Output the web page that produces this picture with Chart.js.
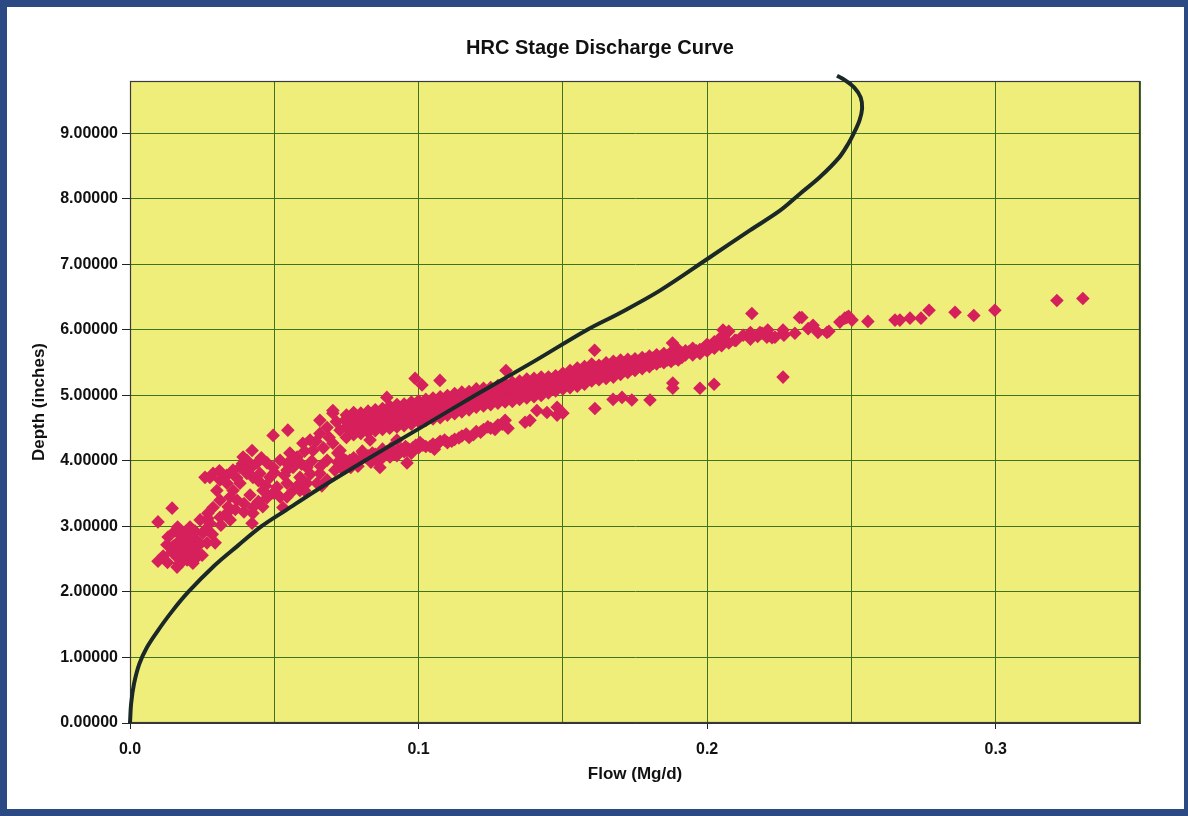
<!DOCTYPE html>
<html><head><meta charset="utf-8">
<script src="https://cdn.jsdelivr.net/npm/chart.js@4.4.0/dist/chart.umd.min.js"></script>
<style>html,body{margin:0;padding:0;background:#fff;}canvas{display:block;}</style>
</head><body>
<canvas id="c" width="1188" height="816"></canvas>
<script>
// Rating curve (flow Mg/d, depth inches)
const curvePoints = [[0,0],[0.0004,0.3],[0.0014,0.6],[0.0032,0.9],[0.0058,1.15],[0.0095,1.4],[0.0145,1.7],[0.0202,2.0],[0.0292,2.4],[0.0372,2.7],[0.0455,3.0],[0.0541,3.25],[0.0645,3.55],[0.0812,4.0],[0.1,4.49],[0.1195,5.0],[0.14,5.52],[0.1583,6.0],[0.1698,6.26],[0.1836,6.6],[0.2003,7.09],[0.2148,7.52],[0.2252,7.82],[0.2322,8.08],[0.239,8.33],[0.2457,8.63],[0.249,8.85],[0.2508,9.0],[0.2528,9.2],[0.2537,9.38],[0.2532,9.55],[0.251,9.7],[0.2475,9.82],[0.245,9.88]];

// Observed flow/depth pairs
const leftCluster = [[0.0097,3.07],[0.0146,3.28],[0.0097,2.47],[0.0128,2.72],[0.0173,2.79],[0.0198,2.68],[0.0163,2.53],[0.0198,2.49],[0.0232,2.59],[0.0218,2.44],[0.0163,2.38],[0.0146,2.61],[0.018,2.46],[0.0232,2.79],[0.0267,2.75],[0.0208,2.99],[0.0243,3.10],[0.0277,3.05],[0.0312,3.14],[0.0347,3.10],[0.0426,3.20],[0.0426,3.29],[0.0423,3.05],[0.0295,2.75],[0.0253,2.90],[0.0191,2.87],[0.0156,2.93],[0.0215,2.72],[0.025,2.56],[0.0194,2.61],[0.0132,2.84],
  [0.0115,2.55],[0.013,2.45],[0.015,2.70],[0.0175,2.64],[0.02,2.55],[0.0215,2.60],[0.0225,2.50],[0.017,2.43],[0.0185,2.74],[0.0205,2.82],[0.0225,2.68],[0.024,2.72],[0.0175,2.87],[0.0195,2.93],[0.0165,2.99],[0.0225,2.93],[0.0265,2.97],[0.0285,2.88],[0.0315,3.02],[0.027,3.12],[0.0335,3.20],[0.0365,3.26],[0.0395,3.22],[0.046,3.30],[0.0475,3.44]];

const midCluster = [[0.027,3.20],[0.0288,3.29],[0.0312,3.40],[0.0301,3.55],[0.0277,3.75],[0.0312,3.71],[0.0336,3.66],[0.0347,3.45],[0.0371,3.40],[0.0357,3.55],[0.0381,3.66],[0.0381,3.90],[0.0405,4.01],[0.0392,4.06],[0.0423,4.16],[0.044,3.97],[0.0475,3.97],[0.045,3.81],[0.0426,3.75],[0.0405,3.81],[0.0485,3.75],[0.0509,3.60],[0.052,3.45],[0.0544,3.66],[0.0496,3.51],[0.0461,3.55],[0.0416,3.48],[0.053,3.29],[0.0357,3.86],[0.0288,3.81],[0.026,3.75],[0.0496,4.39],[0.0547,4.47],[0.0579,4.06],[0.0613,3.90],[0.0589,3.75],[0.0565,3.90],[0.0544,3.86],[0.052,4.01],[0.0496,3.90],[0.0554,4.12],[0.0599,4.27],[0.0634,4.16],[0.0658,4.42],[0.0683,4.51],[0.0658,4.62],[0.0703,4.73],[0.0703,4.27],[0.0683,4.01],[0.0658,3.81],[0.0648,3.66],[0.0683,3.71],[0.0613,3.66],[0.0565,3.55],[0.0544,3.45],[0.0589,3.55],[0.0624,4.32],[0.0728,4.47],[0.0745,4.62],[0.0728,4.16],[0.071,3.86],[0.0745,4.01],
  [0.031,3.85],[0.0335,3.78],[0.037,3.74],[0.039,3.96],[0.042,3.90],[0.0445,3.70],[0.047,3.62],[0.05,3.82],[0.0535,3.78],[0.057,4.00],[0.0595,3.95],[0.0605,4.15],[0.063,4.00],[0.0645,4.30],[0.067,4.20],[0.069,4.36],[0.0715,4.60],[0.0625,3.80],[0.066,3.92],[0.0545,3.96],[0.058,3.62],[0.0605,3.55],[0.0665,3.62],[0.0455,4.05],[0.034,3.30],[0.0395,3.35],[0.0445,3.38]];

const mainBand = [[0.075,4.70],[0.075,4.52],[0.075,4.36],[0.0775,4.74],[0.0775,4.55],[0.0775,4.40],[0.08,4.73],[0.08,4.58],[0.08,4.42],[0.0825,4.76],[0.0825,4.60],[0.0825,4.44],[0.085,4.78],[0.085,4.62],[0.085,4.46],[0.0875,4.80],[0.0875,4.63],[0.0875,4.48],[0.09,4.84],[0.09,4.66],[0.09,4.50],[0.0925,4.86],[0.0925,4.68],[0.0925,4.52],[0.095,4.87],[0.095,4.72],[0.095,4.54],[0.0975,4.90],[0.0975,4.73],[0.0975,4.56],[0.1,4.92],[0.1,4.76],[0.1,4.60],[0.1025,4.94],[0.1025,4.78],[0.1025,4.62],[0.105,4.96],[0.105,4.80],[0.105,4.64],[0.1075,4.98],[0.1075,4.82],[0.1075,4.66],[0.11,5.00],[0.11,4.85],[0.11,4.70],[0.1125,5.03],[0.1125,4.87],[0.1125,4.72],[0.115,5.05],[0.115,4.89],[0.115,4.75],[0.1175,5.06],[0.1175,4.92],[0.1175,4.78],[0.12,5.10],[0.12,4.95],[0.12,4.82],[0.1225,5.11],[0.1225,4.97],[0.1225,4.84],[0.125,5.12],[0.125,4.99],[0.125,4.86],[0.1275,5.15],[0.1275,5.01],[0.1275,4.88],[0.13,5.18],[0.13,5.03],[0.13,4.90],[0.1325,5.20],[0.1325,5.05],[0.1325,4.91],[0.135,5.22],[0.135,5.08],[0.135,4.94],[0.1375,5.25],[0.1375,5.10],[0.1375,4.96],[0.14,5.26],[0.14,5.12],[0.14,4.98],[0.1425,5.28],[0.1425,5.14],[0.1425,5.00],[0.145,5.28],[0.145,5.16],[0.145,5.04],[0.1475,5.30],[0.1475,5.19],[0.1475,5.07],[0.15,5.34],[0.15,5.21],[0.15,5.10],[0.1525,5.38],[0.1525,5.24],[0.1525,5.12],[0.155,5.42],[0.155,5.27],[0.155,5.14],[0.1575,5.44],[0.1575,5.30],[0.1575,5.17],[0.16,5.48],[0.16,5.34],[0.16,5.22],[0.1625,5.46],[0.1625,5.36],[0.1625,5.24],[0.165,5.50],[0.165,5.38],[0.165,5.26],[0.1675,5.52],[0.1675,5.40],[0.1675,5.28],[0.17,5.54],[0.17,5.43],[0.17,5.32],[0.1725,5.55],[0.1725,5.45],[0.1725,5.35],[0.175,5.56],[0.175,5.47],[0.175,5.38],[0.1775,5.58],[0.1775,5.49],[0.1775,5.41],[0.18,5.60],[0.18,5.51],[0.18,5.44],[0.1825,5.62],[0.1825,5.54],[0.1825,5.48],[0.185,5.64],[0.185,5.56],[0.185,5.50],[0.1875,5.66],[0.1875,5.58],[0.1875,5.52],[0.19,5.70],[0.19,5.60],[0.19,5.54],[0.1925,5.68],[0.1925,5.62],[0.195,5.72],[0.195,5.62],[0.1975,5.70],[0.1975,5.64],[0.2,5.78],[0.2,5.68],[0.2025,5.82],[0.2025,5.72],[0.205,5.90],[0.205,5.76],[0.2075,5.98],[0.2075,5.80],[0.21,5.84],[0.2125,5.92],[0.215,5.96],[0.215,5.86],[0.2175,5.90],[0.22,5.94],[0.2225,5.88]];

const bandFill = [[0.07625,4.64],[0.07625,4.46],[0.07875,4.66],[0.07875,4.49],[0.08125,4.68],[0.08125,4.51],[0.08375,4.70],[0.08375,4.53],[0.08625,4.71],[0.08625,4.55],[0.08875,4.74],[0.08875,4.57],[0.09125,4.76],[0.09125,4.59],[0.09375,4.79],[0.09375,4.62],[0.09625,4.81],[0.09625,4.64],[0.09875,4.83],[0.09875,4.66],[0.10125,4.85],[0.10125,4.69],[0.10375,4.87],[0.10375,4.71],[0.10625,4.89],[0.10625,4.73],[0.10875,4.91],[0.10875,4.75],[0.11125,4.94],[0.11125,4.78],[0.11375,4.96],[0.11375,4.80],[0.11625,4.98],[0.11625,4.83],[0.11875,5.02],[0.11875,4.86],[0.12125,5.04],[0.12125,4.90],[0.12375,5.05],[0.12375,4.92],[0.12625,5.07],[0.12625,4.94],[0.12875,5.10],[0.12875,4.96],[0.13125,5.12],[0.13125,4.97],[0.13375,5.14],[0.13375,5.00],[0.13625,5.17],[0.13625,5.02],[0.13875,5.19],[0.13875,5.04],[0.14125,5.20],[0.14125,5.06],[0.14375,5.22],[0.14375,5.09],[0.14625,5.24],[0.14625,5.11],[0.14875,5.27],[0.14875,5.15],[0.15125,5.31],[0.15125,5.17],[0.15375,5.34],[0.15375,5.20],[0.15625,5.37],[0.15625,5.23],[0.15875,5.40],[0.15875,5.27],[0.16125,5.42],[0.16125,5.29],[0.16375,5.44],[0.16375,5.31],[0.16625,5.46],[0.16625,5.33],[0.16875,5.48],[0.16875,5.36],[0.17125,5.50],[0.17125,5.39],[0.17375,5.51],[0.17375,5.41],[0.17625,5.52],[0.17625,5.44],[0.17875,5.55],[0.17875,5.46],[0.18125,5.57],[0.18125,5.49],[0.18375,5.59],[0.18375,5.52],[0.18625,5.61],[0.18625,5.54],[0.18875,5.63],[0.18875,5.56],[0.19125,5.65],[0.19125,5.58],[0.19375,5.67],[0.19625,5.68],[0.19875,5.72],[0.20125,5.76],[0.20375,5.80],[0.20625,5.84]];

const lowerBranch = [[0.072,3.98],[0.072,4.12],[0.0735,3.88],[0.075,4.00],[0.0765,3.90],[0.0775,4.05],[0.079,3.92],[0.08,4.02],[0.0805,4.15],[0.0825,4.08],[0.0835,3.98],[0.085,4.10],[0.0855,4.00],[0.0875,4.05],[0.0875,4.18],[0.09,4.10],[0.0905,4.20],[0.0925,4.08],[0.093,4.15],[0.095,4.14],[0.0955,4.22],[0.0975,4.12],[0.098,4.20],[0.1,4.20],[0.1005,4.28],[0.1025,4.22],[0.105,4.26],[0.1055,4.18],[0.1075,4.30],[0.11,4.28],[0.1125,4.33],[0.115,4.38],[0.1175,4.36],[0.12,4.45],[0.1225,4.48],[0.125,4.50],[0.1275,4.55],[0.13,4.62],[0.131,4.50],[0.0832,4.32],[0.0925,4.32],[0.096,4.16],[0.0901,4.06],[0.0807,4.12],[0.0762,4.01],[0.0866,3.90],[0.096,3.97],
  [0.0735,4.05],[0.0785,4.00],[0.0815,4.06],[0.084,4.12],[0.0865,4.10],[0.089,4.14],[0.0915,4.12],[0.094,4.18],[0.0965,4.18],[0.099,4.24],[0.1015,4.24],[0.104,4.22],[0.1065,4.26],[0.109,4.32],[0.1115,4.30],[0.114,4.35],[0.1165,4.41],[0.119,4.40],[0.1215,4.44],[0.124,4.52],[0.1265,4.48],[0.129,4.56]];

const isolatedPoints = [[0.0703,4.77],[0.089,4.97],[0.0988,5.26],[0.1012,5.16],[0.1074,5.23],[0.1303,5.38],[0.161,5.69],[0.188,5.80],[0.1369,4.59],[0.1386,4.62],[0.141,4.77],[0.1445,4.74],[0.148,4.82],[0.148,4.70],[0.15,4.73],[0.1611,4.80],[0.1674,4.94],[0.1705,4.97],[0.1739,4.93],[0.1802,4.93],[0.1881,5.19],[0.1881,5.11],[0.1975,5.11],[0.2024,5.17],[0.2263,5.28]];

const rightTail = [[0.2055,6.0],[0.2096,5.84],[0.2148,5.92],[0.2155,6.25],[0.2183,5.96],[0.219,5.95],[0.2207,5.89],[0.221,6.0],[0.2235,5.89],[0.2263,5.95],[0.2266,5.92],[0.2263,6.0],[0.2304,5.95],[0.232,6.19],[0.2328,6.19],[0.235,6.02],[0.2367,6.07],[0.2384,5.96],[0.2415,5.96],[0.2422,5.98],[0.246,6.12],[0.2477,6.18],[0.2484,6.19],[0.249,6.21],[0.2502,6.15],[0.2557,6.13],[0.2651,6.15],[0.2668,6.15],[0.2703,6.18],[0.2741,6.18],[0.2769,6.30],[0.2859,6.27],[0.2924,6.22],[0.2997,6.30],[0.3212,6.45],[0.3302,6.48]];

const xTickLabels = ['0.0','0.1','0.2','0.3'];
const chartTitle = 'HRC Stage Discharge Curve';
const xTitle = 'Flow (Mg/d)';
const yTitle = 'Depth (inches)';

const toXY = arr => arr.map(p => ({x: p[0], y: p[1]}));
const observed = [].concat(leftCluster, midCluster, mainBand, bandFill, lowerBranch, isolatedPoints, rightTail);

const FONT = "'Liberation Sans', Arial, Helvetica, sans-serif";
Chart.defaults.font.family = FONT;
Chart.defaults.color = '#111';

const framePlugin = {
  id: 'frame',
  beforeDraw(chart) {
    const {ctx, chartArea: a} = chart;
    ctx.save();
    ctx.fillStyle = '#ffffff';
    ctx.fillRect(0, 0, chart.width, chart.height);
    ctx.fillStyle = '#f0ee7b';
    ctx.fillRect(a.left, a.top, a.right - a.left, a.bottom - a.top);
    ctx.restore();
  },
  beforeDatasetsDraw(chart) {
    const {ctx, chartArea: a} = chart;
    ctx.save();
    ctx.strokeStyle = '#3a3a3a';
    ctx.lineWidth = 1.2;
    ctx.strokeRect(a.left + 0.5, a.top + 0.5, a.right - a.left - 1, a.bottom - a.top - 1);
    ctx.restore();
  },
  afterDraw(chart) {
    const ctx = chart.ctx;
    ctx.save();
    ctx.fillStyle = '#2b4983';
    ctx.fillRect(0, 0, chart.width, 7);
    ctx.fillRect(0, 0, 7, chart.height);
    ctx.fillRect(0, chart.height - 7, chart.width, 7);
    ctx.fillRect(chart.width - 4, 0, 4, chart.height);
    ctx.restore();
  }
};

new Chart(document.getElementById('c'), {
  type: 'scatter',
  data: {
    datasets: [
      {
        label: 'Rating curve',
        data: toXY(curvePoints),
        showLine: true,
        borderColor: '#1b2828',
        borderWidth: 4,
        pointRadius: 0,
        tension: 0.35,
        clip: false,
        order: 0
      },
      {
        label: 'Observed',
        data: toXY(observed),
        pointStyle: 'rectRot',
        pointRadius: 6.8,
        backgroundColor: 'rgb(214,32,92)',
        borderColor: 'rgb(214,32,92)',
        borderWidth: 0,
        order: 1
      }
    ]
  },
  options: {
    responsive: false,
    animation: false,
    devicePixelRatio: 1,
    layout: {padding: {left: 60, right: 48, top: 0, bottom: 0}},
    plugins: {
      legend: {display: false},
      tooltip: {enabled: false},
      title: {
        display: true,
        text: chartTitle,
        color: '#111',
        font: {family: FONT, size: 20, weight: 'bold'},
        padding: {top: 36, bottom: 21}
      }
    },
    scales: {
      x: {
        type: 'linear',
        min: 0,
        max: 0.35,
        afterFit: s => { s.height = 93; },
        border: {color: '#333', width: 1},
        grid: {
          color: '#3f7322',
          lineWidth: 1,
          tickLength: 6,
          tickColor: c => (Math.round(c.tick.value / 0.05) % 2 === 0 ? '#222' : 'rgba(0,0,0,0)')
        },
        ticks: {
          stepSize: 0.05,
          autoSkip: false,
          maxRotation: 0,
          padding: 11,
          color: '#111',
          font: {family: FONT, size: 16, weight: 'bold'},
          callback: v => {
            const k = Math.round(v / 0.05);
            return (k % 2 === 0 && xTickLabels[k / 2] !== undefined) ? xTickLabels[k / 2] : '';
          }
        },
        title: {
          display: true,
          text: xTitle,
          color: '#111',
          font: {family: FONT, size: 17, weight: 'bold'},
          padding: {top: 0, bottom: 31}
        }
      },
      y: {
        type: 'linear',
        min: 0,
        max: 9.8,
        afterFit: s => { s.width = 70; },
        border: {color: '#333', width: 1},
        grid: {
          color: '#3f7322',
          lineWidth: 1,
          tickLength: 8,
          tickColor: '#222'
        },
        ticks: {
          stepSize: 1,
          includeBounds: false,
          padding: 4,
          color: '#111',
          font: {family: FONT, size: 16, weight: 'bold'},
          callback: v => Number(v).toFixed(5)
        },
        title: {
          display: true,
          text: yTitle,
          color: '#111',
          font: {family: FONT, size: 17, weight: 'bold'},
          padding: {top: -31, bottom: 0}
        }
      }
    }
  },
  plugins: [framePlugin]
});
</script>
</body></html>
